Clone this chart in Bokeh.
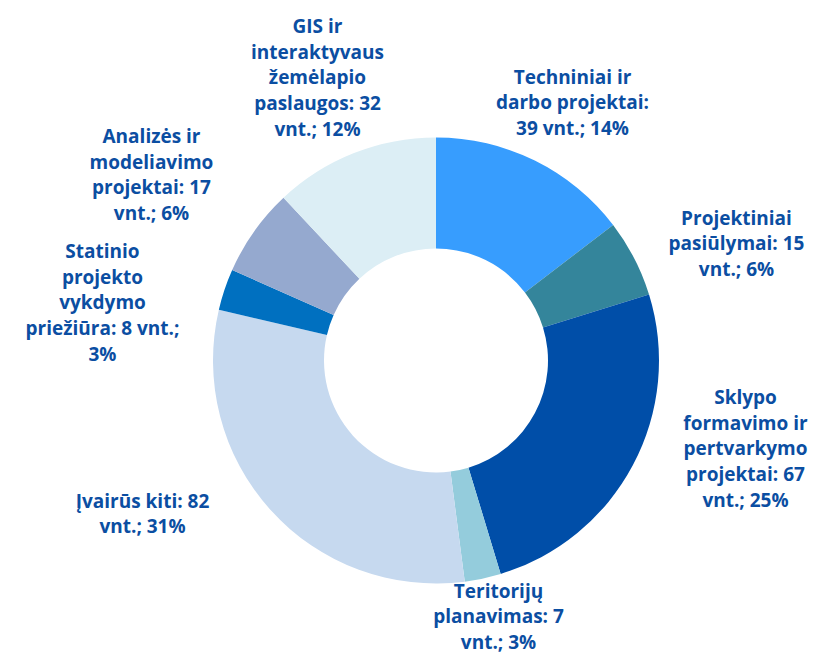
import numpy as np
from bokeh.plotting import figure
from bokeh.models import Range1d, ColumnDataSource
from bokeh.core.properties import value
from bokeh.embed import file_html
from bokeh.resources import INLINE

categories = [
    "Techniniai ir\ndarbo projektai:\n39 vnt.; 14%",
    "Projektiniai\npasiūlymai: 15\nvnt.; 6%",
    "Sklypo\nformavimo ir\npertvarkymo\nprojektai: 67\nvnt.; 25%",
    "Teritorijų\nplanavimas: 7\nvnt.; 3%",
    "Įvairūs kiti: 82\nvnt.; 31%",
    "Statinio\nprojekto\nvykdymo\npriežiūra: 8 vnt.;\n3%",
    "Analizės ir\nmodeliavimo\nprojektai: 17\nvnt.; 6%",
    "GIS ir\ninteraktyvaus\nžemėlapio\npaslaugos: 32\nvnt.; 12%",
]
counts = [39, 15, 67, 7, 82, 8, 17, 32]
colors = ["#379dfe", "#34859b", "#004ea8", "#94ccdc", "#c6d9ef", "#0070c0", "#95a9cf", "#dceef5"]

W, H = 817, 655
# label block centres in page pixels (layout)
label_px = [(572, 102), (736, 243), (745, 448), (498, 616), (142, 513), (102, 302), (151, 174), (317, 77)]

p = figure(width=W, height=H, output_backend="svg", toolbar_location=None,
           x_range=Range1d(0, W), y_range=Range1d(0, H), min_border=0)
p.axis.visible = False
p.grid.visible = False
p.outline_line_color = None

total = float(sum(counts))
cum = np.concatenate([[0], np.cumsum(counts)])
start = np.pi / 2 - 2 * np.pi * cum[:-1] / total
end = np.pi / 2 - 2 * np.pi * cum[1:] / total

cx, cy = 435.5, H - 360
src = ColumnDataSource(dict(start=start, end=end, color=colors))
p.annular_wedge(x=cx, y=cy, inner_radius=112, outer_radius=223, start_angle="start", end_angle="end",
                direction="clock", fill_color="color", line_color=None, source=src)

lsrc = ColumnDataSource(dict(x=[a for a, b in label_px], y=[H - b for a, b in label_px], text=categories))
p.text(x="x", y="y", text="text", source=lsrc, text_align="center", text_baseline="middle",
       text_font=value("Open Sans"), text_font_style="bold", text_font_size="19px",
       text_color="#0b4ea2", text_line_height=0.99)

open("out.html", "w").write(file_html(p, INLINE))
